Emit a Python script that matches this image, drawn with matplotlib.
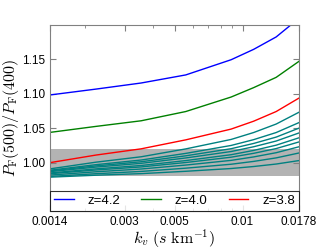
import matplotlib
matplotlib.use("Agg")
import matplotlib.pyplot as plt
from matplotlib.ticker import FixedLocator, FixedFormatter, NullFormatter

plt.rcParams["font.family"] = ["Liberation Sans", "DejaVu Sans"]
plt.rcParams["mathtext.fontset"] = "cm"

# k_v grid (s/km)
k_v = [0.0014, 0.00224, 0.00355, 0.0056, 0.0089, 0.0112, 0.0141, 0.0178]

# P_F(500)/P_F(400) per redshift
ratio_z42 = [1.098, 1.1065, 1.1153, 1.127, 1.149, 1.164, 1.182, 1.209]
ratio_z40 = [1.0438, 1.0525, 1.0606, 1.074, 1.095, 1.1086, 1.1235, 1.1467]
ratio_z38 = [1.000, 1.011, 1.020, 1.033, 1.0486, 1.060, 1.074, 1.0935]

# lower redshift bins (no legend entry)
ratio_low = [
    [0.991, 1.0007, 1.0085, 1.0199, 1.0336, 1.0436, 1.0559, 1.073],
    [0.989, 0.9971, 1.0038, 1.0134, 1.0249, 1.0333, 1.0436, 1.058],
    [0.988, 0.9953, 1.0013, 1.0099, 1.0202, 1.0278, 1.0370, 1.050],
    [0.987, 0.9936, 0.9990, 1.0068, 1.0161, 1.0230, 1.0313, 1.043],
    [0.985, 0.9910, 0.9959, 1.0030, 1.0115, 1.0177, 1.0253, 1.036],
    [0.984, 0.9894, 0.9938, 1.0002, 1.0079, 1.0135, 1.0204, 1.030],
    [0.982, 0.9868, 0.9908, 0.9965, 1.0033, 1.0083, 1.0144, 1.023],
    [0.980, 0.9840, 0.9873, 0.9920, 0.9977, 1.0018, 1.0069, 1.014],
    [0.979, 0.9818, 0.9841, 0.9875, 0.9915, 0.9944, 0.9980, 1.003],
]

band = (0.98, 1.02)
xticks = [0.0014, 0.003, 0.005, 0.01, 0.0178]
xticklabels = ["0.0014", "0.003", "0.005", "0.01", "0.0178"]
yticks = [1.00, 1.05, 1.10, 1.15]

fig = plt.figure(figsize=(3.32, 2.49), dpi=100)
ax = fig.add_axes([0.1506, 0.1526, 0.75, 0.7490])

ax.axhspan(band[0], band[1], color="0.7", lw=0, zorder=0)

for vals in ratio_low:
    ax.plot(k_v, vals, color="teal", lw=1.0)
ax.plot(k_v, ratio_z42, color="b", lw=1.0, label="z=4.2")
ax.plot(k_v, ratio_z40, color="g", lw=1.0, label="z=4.0")
ax.plot(k_v, ratio_z38, color="r", lw=1.0, label="z=3.8")

ax.set_xscale("log")
ax.set_xlim(0.0014, 0.0178)
ax.set_ylim(0.93, 1.20)
ax.xaxis.set_major_locator(FixedLocator(xticks))
ax.xaxis.set_major_formatter(FixedFormatter(xticklabels))
ax.xaxis.set_minor_formatter(NullFormatter())
ax.set_yticks(yticks)
ax.set_yticklabels(["%.2f" % v for v in yticks])

ax.tick_params(which="both", direction="in", top=True, right=True,
               labelsize=8.5, color="0.5")
ax.tick_params(which="major", length=4)
ax.tick_params(which="minor", length=2)
for s in ax.spines.values():
    s.set_color("0.5")

ax.set_xlabel(r"$k_v\ (s\ {\rm km}^{-1})$", fontsize=11.5, labelpad=0)
ax.set_ylabel(r"$P_{\rm F}(500)/P_{\rm F}(400)$", fontsize=11.5, labelpad=1)

leg = ax.legend(loc="lower left", bbox_to_anchor=(0, 0, 1, 1), mode="expand",
                ncol=3, fontsize=9.5, fancybox=False, borderaxespad=0,
                handlelength=1.5, handletextpad=1.05, borderpad=0.3,
                columnspacing=1.0)
leg.get_frame().set_edgecolor("black")
leg.get_frame().set_linewidth(0.8)

fig.savefig("out.png", dpi=100)
